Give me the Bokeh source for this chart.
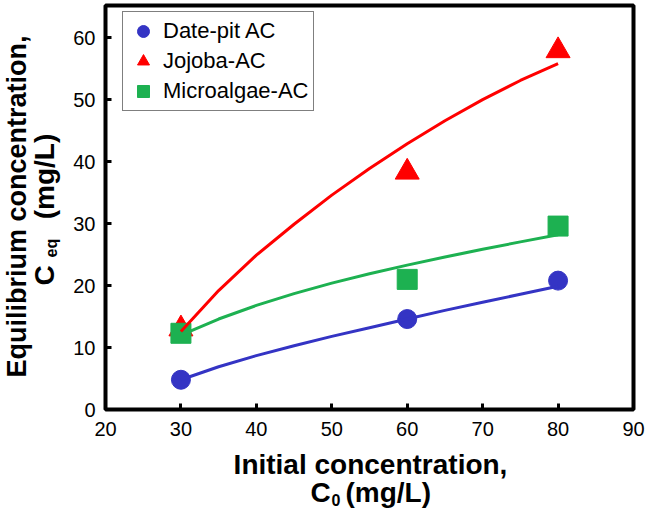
import math
from bokeh.plotting import figure
from bokeh.layouts import row, column
from bokeh.models import Label, Range1d, Legend, LegendItem
from bokeh.embed import file_html
from bokeh.resources import INLINE

# measured data
x_pts = [30, 60, 80]
date_pit = [4.8, 14.6, 20.8]
jojoba = [13.0, 38.3, 57.9]
microalgae = [12.3, 21.0, 29.6]

# fitted curves
x_fit = [30, 35, 40, 45, 50, 55, 60, 65, 70, 75, 80]
date_pit_fit = [4.8, 6.9, 8.7, 10.3, 11.8, 13.2, 14.6, 16.0, 17.3, 18.6, 19.9]
jojoba_fit = [12.6, 19.2, 24.9, 29.9, 34.6, 38.9, 42.9, 46.6, 50.0, 53.1, 55.8]
microalgae_fit = [12.0, 14.6, 16.8, 18.7, 20.4, 21.9, 23.3, 24.6, 25.85, 27.05, 28.2]

x_ticks = [20, 30, 40, 50, 60, 70, 80, 90]
y_ticks = [0, 10, 20, 30, 40, 50, 60]

BLUE = "#3434c4"
RED = "#ff0000"
GREEN = "#1db151"
FONT = "Liberation Sans"

p = figure(width=576, height=440, output_backend="svg", toolbar_location=None,
           x_range=Range1d(20, 90), y_range=Range1d(0, 65.2), align="start",
           min_border_left=33, min_border_right=13, min_border_top=5, min_border_bottom=31)
p.xgrid.visible = False
p.ygrid.visible = False
p.outline_line_color = "black"
p.outline_line_width = 4
p.outline_line_alpha = 1.0

for ax in (p.xaxis[0], p.yaxis[0]):
    ax.axis_line_color = None
    ax.major_tick_in = 6
    ax.major_tick_out = 0
    ax.major_tick_line_width = 3
    ax.major_tick_line_color = "black"
    ax.minor_tick_line_color = None
    ax.major_label_text_font = FONT
    ax.major_label_text_font_size = "20px"
    ax.major_label_text_color = "black"
p.xaxis.ticker = x_ticks
p.yaxis.ticker = y_ticks
p.xaxis.major_label_standoff = 12
p.yaxis.major_label_standoff = 10

r_tri = p.scatter(x_pts, jojoba, marker="triangle", size=24, color=RED)
r_sq = p.scatter(x_pts, microalgae, marker="square", size=20, color=GREEN)
r_circ = p.scatter(x_pts, date_pit, marker="circle", size=19, color=BLUE)

p.line(x_fit, jojoba_fit, line_color=RED, line_width=3)
p.line(x_fit, microalgae_fit, line_color=GREEN, line_width=3)
p.line(x_fit, date_pit_fit, line_color=BLUE, line_width=3)

legend = Legend(items=[LegendItem(label="Date-pit AC", renderers=[r_circ]),
                       LegendItem(label="Jojoba-AC", renderers=[r_tri]),
                       LegendItem(label="Microalgae-AC", renderers=[r_sq])],
                location=(17, 298))
legend.label_text_font = FONT
legend.label_text_font_size = "22px"
legend.label_text_color = "black"
legend.glyph_width = 32
legend.glyph_height = 30
legend.label_height = 30
legend.spacing = 0
legend.padding = 4
legend.label_standoff = 4
legend.border_line_color = "black"
legend.border_line_width = 1.5
legend.background_fill_alpha = 1.0
p.add_layout(legend, "center")


def blank(w, h):
    f = figure(width=w, height=h, output_backend="svg", toolbar_location=None,
               x_range=Range1d(0, 1), y_range=Range1d(0, 1),
               x_axis_location=None, y_axis_location=None, align="start",
               min_border=0, min_border_left=0, min_border_right=0,
               min_border_top=0, min_border_bottom=0)
    f.xgrid.visible = False
    f.ygrid.visible = False
    f.outline_line_color = None
    return f


def lab(f, text, x, y, size, angle=0.0, align="left"):
    f.add_layout(Label(x=x, y=y, x_units="screen", y_units="screen", text=text,
                       angle=angle, text_align=align, text_baseline="alphabetic",
                       text_font=FONT, text_font_size=size, text_font_style="bold",
                       text_color="black"))


# y title panel
L = blank(70, 515)
A = math.pi / 2
lab(L, "Equilibrium concentration,", 16, 309, "27px", angle=A, align="center")
lab(L, "C", 44, 230, "28px", angle=A)
lab(L, "eq", 51, 258, "16px", angle=A)
lab(L, "(mg/L)", 44, 339, "28px", angle=A, align="center")

# x title panel
B = blank(576, 75)
lab(B, "Initial concentration,", 265, 51, "28px", align="center")
lab(B, "C", 205, 23, "28px")
lab(B, "0", 226, 16, "16px")
lab(B, "(mg/L)", 240, 23, "28px")

col = column(p, B, spacing=0, width=576, height=515, align="start")
layout = row(L, col, spacing=0, width=646, height=515)
open("out.html", "w").write(file_html(layout, INLINE))
